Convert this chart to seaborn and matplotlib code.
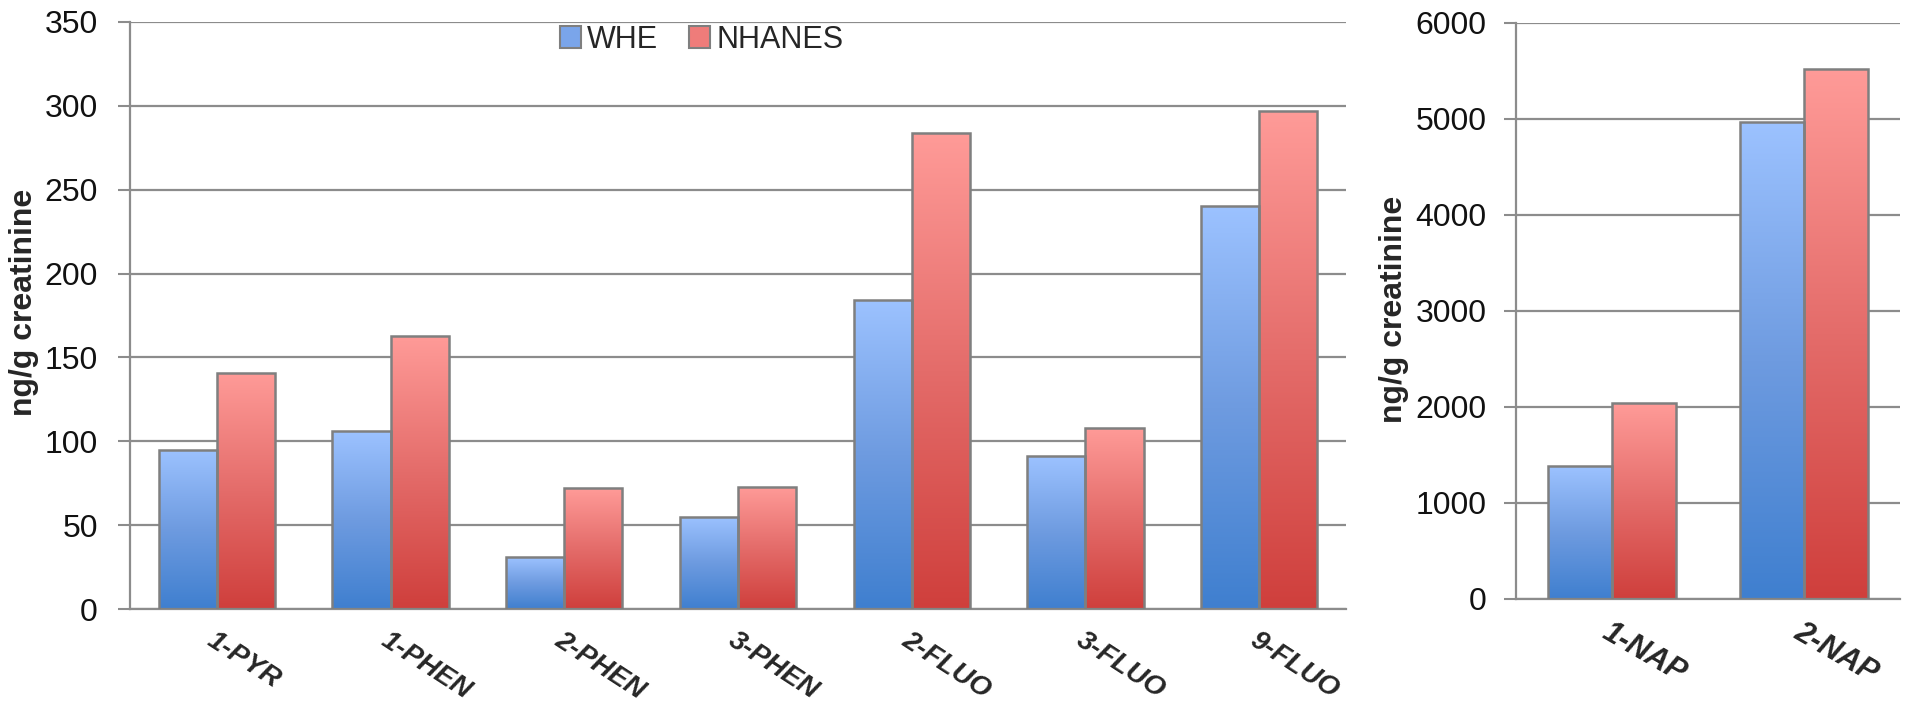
# %% Urinary PAH metabolites: WHE vs NHANES
import numpy as np
import pandas as pd
import matplotlib
matplotlib.use('Agg')
import matplotlib.pyplot as plt
import matplotlib.transforms as mtransforms
import seaborn as sns
from matplotlib.colors import LinearSegmentedColormap
from matplotlib.patches import Patch

# %% Data
groups = ['WHE', 'NHANES']
left_compounds = ['1-PYR', '1-PHEN', '2-PHEN', '3-PHEN', '2-FLUO', '3-FLUO', '9-FLUO']
left_whe = [95, 106, 31, 55, 184, 91, 240]
left_nhanes = [141, 163, 72, 73, 284, 108, 297]
right_compounds = ['1-NAP', '2-NAP']
right_whe = [1385, 4965]
right_nhanes = [2038, 5524]
left_yticks = [0, 50, 100, 150, 200, 250, 300, 350]
right_yticks = [0, 1000, 2000, 3000, 4000, 5000, 6000]

df_left = pd.DataFrame({'compound': left_compounds * 2,
                        'group': ['WHE'] * 7 + ['NHANES'] * 7,
                        'value': left_whe + left_nhanes})
df_right = pd.DataFrame({'compound': right_compounds * 2,
                         'group': ['WHE'] * 2 + ['NHANES'] * 2,
                         'value': right_whe + right_nhanes})

# %% Style
sns.set_style('white')
plt.rcParams['font.family'] = ['Liberation Sans', 'DejaVu Sans']

grid_col = '#8c8c8c'
edge_col = '#7f7f7f'
blue_cmap = LinearSegmentedColormap.from_list('b', ['#3f7fcf', '#6e9be0', '#9cc2ff'])
red_cmap = LinearSegmentedColormap.from_list('r', ['#cf3f3c', '#e46c6a', '#ff9b98'])
palette = {'WHE': '#7aa5ea', 'NHANES': '#ef7c7a'}

fig = plt.figure(figsize=(19.05, 7.07), dpi=100)
ax1 = fig.add_axes([0.0682, 0.1386, 0.7066 - 0.0682, 0.9689 - 0.1386])
ax2 = fig.add_axes([0.7958, 0.1528, 0.9974 - 0.7958, 0.9675 - 0.1528])


def draw_panel(ax, df, cats, yticks, rot, dx, ypad, xfs):
    sns.barplot(data=df, x='compound', y='value', hue='group', hue_order=groups,
                palette=palette, width=0.67, edgecolor=edge_col, linewidth=1.8,
                ax=ax, legend=False, zorder=3)
    # vertical gradient inside every bar
    grad = np.linspace(0, 1, 256).reshape(-1, 1)
    n = len(cats)
    for i, p in enumerate(ax.patches):
        x0 = p.get_x()
        w = p.get_width()
        h = p.get_height()
        cmap = blue_cmap if i < n else red_cmap
        im = ax.imshow(grad, cmap=cmap, origin='lower', aspect='auto',
                       extent=(x0, x0 + w, 0, h), zorder=2)
        im.set_clip_path(p)
        p.set_facecolor('none')
    ax.set_xlim(-0.5, n - 0.5)
    ax.set_ylim(yticks[0], yticks[-1])
    ax.set_yticks(yticks)
    ax.set_yticklabels([str(t) for t in yticks], fontsize=23, color='#111111')
    ax.yaxis.grid(True, color=grid_col, linewidth=1.6)
    ax.set_axisbelow(True)
    ax.set_xticks(range(n))
    ax.set_xticklabels(cats, rotation=rot, ha='left', va='top',
                       rotation_mode='anchor', fontsize=xfs,
                       fontweight='bold', fontstyle='italic')
    offset = mtransforms.ScaledTranslation(dx / 100, 0, fig.dpi_scale_trans)
    for lab in ax.get_xticklabels():
        lab.set_transform(lab.get_transform() + offset)
    ax.set_xticks(np.arange(-0.5, n, 1.0), minor=True)
    ax.tick_params(axis='x', which='major', length=0, pad=13)
    ax.tick_params(axis='x', which='minor', length=10, width=1.5, color=grid_col)
    ax.tick_params(axis='y', length=9, width=1.5, color=grid_col, pad=ypad,
                   direction='out', left=True)
    ax.set_xlabel('')
    ax.set_ylabel('ng/g creatinine', fontsize=23, fontweight='bold')
    for s in ['top', 'right']:
        ax.spines[s].set_visible(False)
    for s in ['left', 'bottom']:
        ax.spines[s].set_color(grid_col)
        ax.spines[s].set_linewidth(1.6)


draw_panel(ax1, df_left, left_compounds, left_yticks, -33, 12, 14, 20)
draw_panel(ax2, df_right, right_compounds, right_yticks, -30, 10, 12, 22)
ax1.yaxis.set_label_coords(-0.0748, 0.523)
ax2.yaxis.set_label_coords(-0.279, 0.502)

handles = [Patch(facecolor=palette[g], edgecolor=edge_col, linewidth=1.5, label=g)
           for g in groups]
ax1.legend(handles=handles, loc='center', bbox_to_anchor=(0.47, 0.97), ncol=2,
           frameon=False, fontsize=22, handlelength=0.7, handleheight=0.7,
           handletextpad=0.2, columnspacing=1.0)

plt.savefig('out.png', dpi=100)
